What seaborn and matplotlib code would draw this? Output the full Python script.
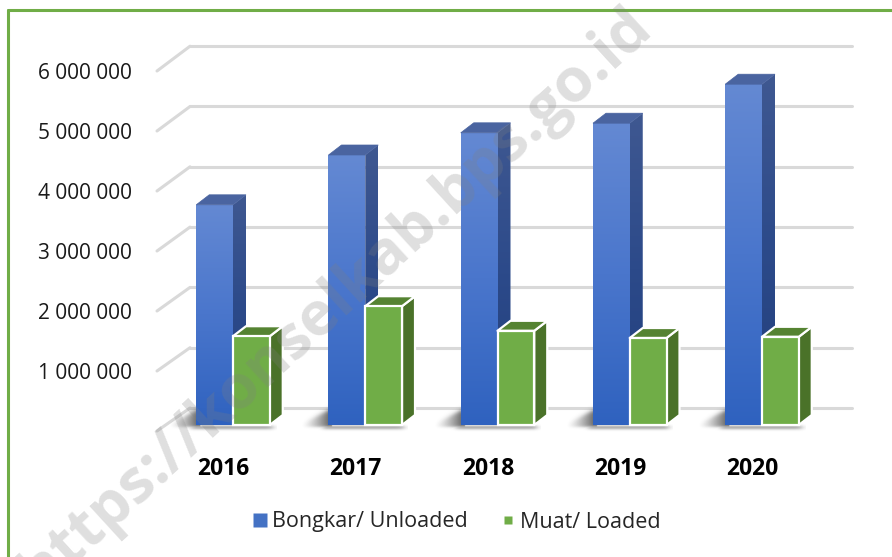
import numpy as np
import pandas as pd
import matplotlib
matplotlib.use("Agg")
import matplotlib.pyplot as plt
from matplotlib.patches import Polygon
from matplotlib.lines import Line2D
from matplotlib.colors import LinearSegmentedColormap
import seaborn as sns

# data
years = ["2016", "2017", "2018", "2019", "2020"]
unloaded = [3670000, 4500000, 4870000, 5030000, 5680000]
loaded = [1480000, 1980000, 1570000, 1450000, 1470000]
series = ["Bongkar/ Unloaded", "Muat/ Loaded"]
yticks = [1000000, 2000000, 3000000, 4000000, 5000000, 6000000]

df = pd.DataFrame({
    "year": years * 2,
    "type": [series[0]] * len(years) + [series[1]] * len(years),
    "value": unloaded + loaded,
})

sns.set_theme(style="white")
plt.rcParams["font.family"] = ["Open Sans", "DejaVu Sans"]

W, H = 892, 557
fig = plt.figure(figsize=(W / 100, H / 100), dpi=100)

# pixel layout
x0px, xstep = 233.0, 132.25      # group centre of first category, spacing
base_px, ypx = 425.0, 60.0       # base line and px per million
ax_l, ax_r, ax_t, ax_b = 150, 860, 30, 440
ax = fig.add_axes([ax_l / W, 1 - ax_b / H, (ax_r - ax_l) / W, (ax_b - ax_t) / H])

def px2x(p):
    return (p - x0px) / xstep

def px2v(p):
    return (base_px - p) / ypx * 1e6

blue, green = "#4472c4", "#70ad47"
sns.barplot(data=df, x="year", y="value", hue="type", palette=[blue, green],
            width=0.556, dodge=True, legend=False, ax=ax, saturation=1)

# back wall grid + floor diagonals
grid_c = "#d9d9d9"
for v in [0] + yticks:
    yb = px2v(408 - v / 1e6 * 60.3)
    yf = px2v(431 - v / 1e6 * 60)
    ax.plot([px2x(190), px2x(852)], [yb, yb], color=grid_c, lw=2.2, zorder=0.5,
            solid_capstyle="round")
    ax.plot([px2x(157), px2x(190)], [yf, yb], color=grid_c, lw=2.2, zorder=0.5,
            solid_capstyle="round")

dx = 13 / xstep
dy = 10 / ypx * 1e6

front_cm = LinearSegmentedColormap.from_list("f", ["#2f62bf", "#4a76cc", "#6489d3"])
side_cm = LinearSegmentedColormap.from_list("s", ["#213e7b", "#2c4a8a", "#3f5891"])
grad = np.linspace(0, 1, 256).reshape(-1, 1)

# soft floor shadow (px offsets from the blue bar's lower-left corner)
gx = np.linspace(-40, 80, 240)
gy = np.linspace(-8, 24, 80)
GX, GY = np.meshgrid(gx, gy)
def sm(t):
    return 0.5 * (1 + np.tanh(t))
top_edge = 15 * np.clip(1 + GX / 28, 0, 1)
wedge = 0.62 * np.clip(1 + GX / 27, 0, 1) ** 1.3 * sm((top_edge - GY) / 3) * sm((GY + 2) / 1.5)
wedge[GX > 4] = 0
band = 0.35 * np.exp(-((GY + 2.5) / 2.2) ** 2) * sm((GX + 5) / 4) * sm((76 - GX) / 4)
shadow_a = np.maximum(wedge, band)
shadow = np.zeros(shadow_a.shape + (4,))
shadow[..., :3] = 0.1
shadow[..., 3] = shadow_a

for k, cont in enumerate(ax.containers):
    for p in cont.patches:
        x, w, h = p.get_x(), p.get_width(), p.get_height()
        z = 2 + k * 3
        side = Polygon([(x + w, 0), (x + w + dx, dy), (x + w + dx, h + dy), (x + w, h)],
                       closed=True)
        top = Polygon([(x, h), (x + dx, h + dy), (x + w + dx, h + dy), (x + w, h)],
                      closed=True)
        if k == 0:
            p.set_zorder(z)
            p.set_edgecolor("none")
            im = ax.imshow(grad, extent=[x, x + w, 0, h], origin="lower", aspect="auto",
                           cmap=front_cm, zorder=z + 0.1)
            im.set_clip_path(p)
            side.set_facecolor("none")
            side.set_edgecolor("none")
            side.set_zorder(z)
            ax.add_patch(side)
            im2 = ax.imshow(grad, extent=[x + w, x + w + dx, 0, h + dy], origin="lower",
                            aspect="auto", cmap=side_cm, zorder=z + 0.2)
            im2.set_clip_path(side)
            top.set_facecolor("#4a64a0")
            top.set_edgecolor("#4a64a0")
            top.set_linewidth(0.5)
            top.set_zorder(z + 0.3)
            ax.add_patch(top)
            ax.imshow(shadow, extent=[x + gx[0] / xstep, x + gx[-1] / xstep,
                                      gy[0] / ypx * 1e6, gy[-1] / ypx * 1e6],
                      origin="lower", aspect="auto", zorder=1, interpolation="bilinear")
        else:
            p.set_edgecolor("white")
            p.set_linewidth(1.6)
            p.set_zorder(z + 0.1)
            side.set_facecolor("#4a7229")
            side.set_edgecolor("white")
            side.set_linewidth(1.6)
            side.set_zorder(z)
            side.set_joinstyle("round")
            ax.add_patch(side)
            top.set_facecolor("#558332")
            top.set_edgecolor("white")
            top.set_linewidth(1.6)
            top.set_zorder(z)
            top.set_joinstyle("round")
            ax.add_patch(top)

ax.set_xlim(px2x(ax_l), px2x(ax_r))
ax.set_ylim(px2v(ax_b), px2v(ax_t))
for s in ax.spines.values():
    s.set_visible(False)
ax.grid(False)
ax.set_xlabel("")
ax.set_ylabel("")

ax.set_yticks([px2v(431 - v / 1e6 * 60) for v in yticks])
ax.set_yticklabels([f"{v:,}".replace(",", " ") for v in yticks], fontsize=15, color="#1a1a1a")
ax.tick_params(axis="y", length=0, pad=13)

ax.set_xticks([px2x(223.5 + xstep * i) for i in range(len(years))])
ax.set_xticklabels(years, fontsize=16.5, fontweight="bold", color="black")
ax.tick_params(axis="x", length=0, pad=12)

handles = [Line2D([], [], marker="s", linestyle="none", markersize=10.5,
                  markerfacecolor="#4472c4", markeredgecolor="none"),
           Line2D([], [], marker="s", linestyle="none", markersize=6,
                  markerfacecolor="#70ad47", markeredgecolor="none")]
fig.legend(handles, series, loc="center", bbox_to_anchor=(457 / W, 1 - 522 / H),
           ncol=2, frameon=False, fontsize=15.5, handlelength=0.6,
           handletextpad=0.25, columnspacing=1.6, borderpad=0)

# watermark
fig.text(336 / W, 1 - 300 / H, "https://konselkab.bps.go.id", rotation=42.5,
         rotation_mode="anchor", ha="center", va="center", fontsize=44,
         fontweight="bold", color="#808080", alpha=0.25, zorder=50)

# green frame (top and left edge visible)
fig.add_artist(Line2D([7.5 / W, 1.0], [1 - 9.5 / H, 1 - 9.5 / H], color="#70ad47", lw=2.2))
fig.add_artist(Line2D([7.5 / W, 7.5 / W], [0, 1 - 9.5 / H], color="#70ad47", lw=2.2))

fig.savefig("out.png", dpi=100, facecolor="white")
